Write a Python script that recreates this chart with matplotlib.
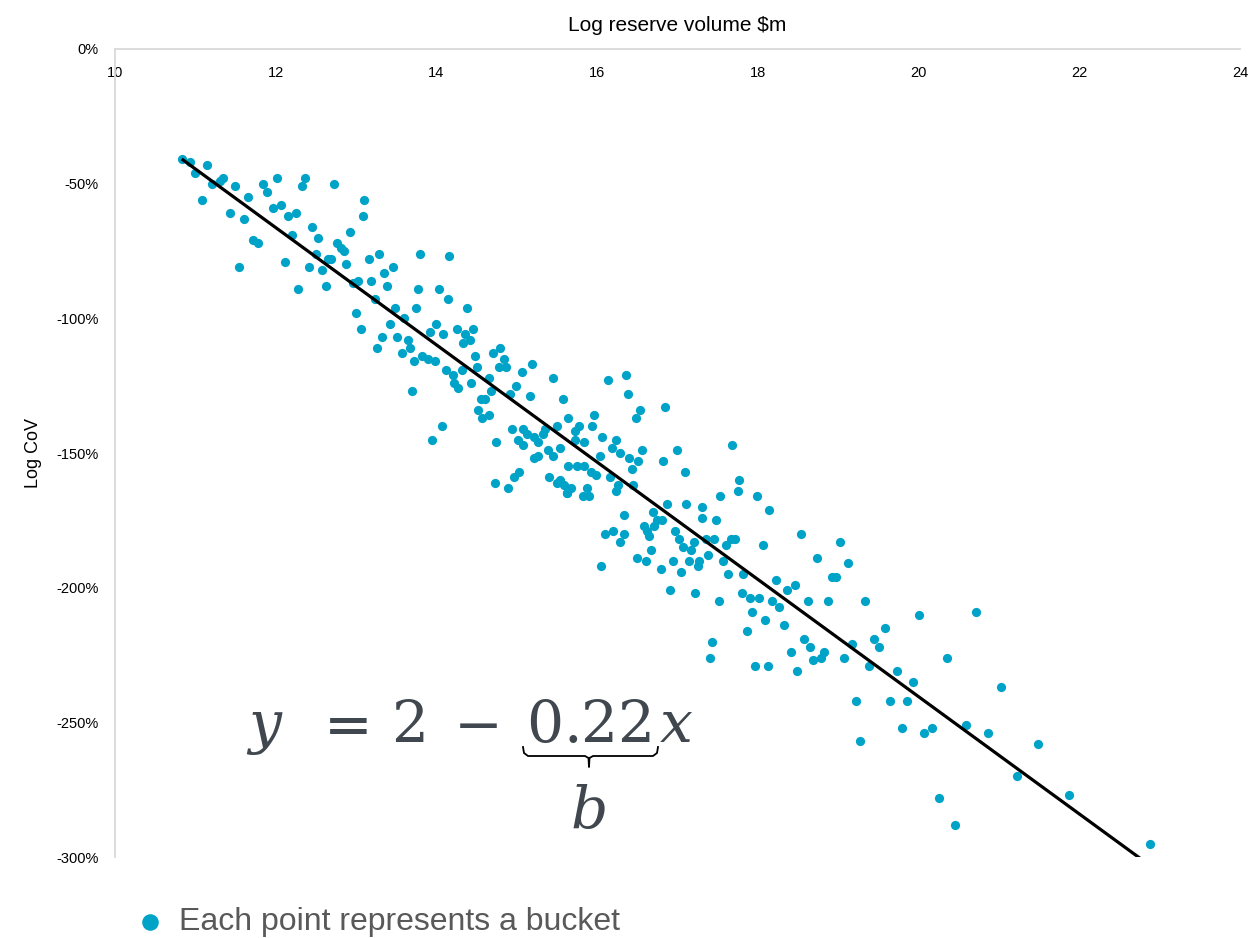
import matplotlib
matplotlib.use('Agg')
import matplotlib.pyplot as plt
from matplotlib.lines import Line2D
import numpy as np

plt.rcParams['font.family'] = ['Liberation Sans', 'DejaVu Sans']
plt.rcParams['axes.unicode_minus'] = False
plt.rcParams['mathtext.fontset'] = 'dejavuserif'

# one point per bucket: log reserve volume ($m) against log coefficient of variation
log_volume = [
    10.83, 10.93, 11.00, 11.15, 11.08, 11.21, 11.34, 11.31, 11.49, 11.43,
    11.61, 11.66, 11.54, 11.72, 11.78, 11.84, 11.89, 12.02, 11.96, 12.07,
    12.15, 12.25, 12.37, 12.33, 12.73, 12.45, 12.53, 12.20, 12.12, 12.28,
    12.42, 12.50, 12.58, 12.62, 12.65, 12.69, 12.76, 12.81, 12.85, 12.93,
    12.88, 13.03, 12.96, 13.00, 13.06, 13.10, 13.08, 13.16, 13.29, 13.19,
    13.35, 13.46, 13.39, 13.80, 14.16, 13.77, 14.03, 14.15, 14.38, 13.23,
    13.49, 13.60, 13.74, 13.42, 13.32, 13.26, 13.51, 13.65, 13.67, 13.57,
    13.72, 13.69, 13.92, 14.00, 14.08, 14.25, 14.36, 14.45, 14.42, 14.33,
    13.82, 13.90, 13.98, 14.12, 14.20, 14.22, 14.27, 14.32, 14.48, 14.50,
    14.43, 14.71, 14.79, 14.84, 14.78, 14.87, 14.66, 15.06, 15.19, 14.99,
    14.92, 15.17, 15.45, 15.57, 14.68, 14.55, 14.61, 14.52, 14.65, 14.57,
    14.07, 13.95, 14.74, 14.94, 15.08, 15.13, 15.01, 15.08, 15.21, 15.26,
    15.33, 15.35, 15.50, 15.64, 15.54, 15.39, 15.45, 15.21, 15.27, 15.64,
    15.03, 14.96, 15.40, 15.54, 15.50, 15.59, 15.63, 14.73, 14.89, 16.13,
    16.36, 16.39, 16.53, 16.48, 16.85, 15.96, 15.93, 15.77, 15.72, 15.73,
    15.84, 16.06, 16.24, 16.18, 16.29, 16.56, 16.03, 16.40, 16.51, 16.43,
    16.82, 16.99, 17.09, 17.68, 15.75, 15.84, 15.92, 15.99, 16.16, 15.68,
    15.62, 15.87, 15.82, 15.90, 16.26, 16.24, 16.45, 16.87, 17.11, 17.30,
    17.31, 17.53, 17.76, 17.75, 17.99, 18.14, 17.48, 16.34, 16.69, 16.75,
    16.81, 16.71, 16.58, 16.62, 16.64, 16.10, 16.20, 16.33, 16.28, 16.97,
    17.02, 17.20, 17.17, 17.07, 17.35, 17.45, 17.60, 17.66, 17.71, 18.06,
    16.67, 16.05, 16.50, 16.61, 16.94, 17.14, 17.25, 17.27, 17.38, 17.57,
    16.79, 17.04, 17.63, 17.82, 16.91, 17.22, 17.52, 17.80, 17.90, 18.02,
    17.93, 18.54, 19.02, 18.74, 19.12, 18.22, 18.36, 18.46, 18.92, 18.97,
    18.18, 18.26, 18.62, 18.87, 19.33, 20.01, 18.09, 18.32, 19.58, 19.45,
    19.51, 18.57, 18.65, 19.17, 18.41, 18.69, 18.78, 18.82, 19.07, 18.12,
    18.49, 19.38, 19.73, 19.93, 20.36, 19.22, 19.64, 19.86, 20.72, 21.03,
    20.59, 20.87, 21.49, 21.23, 21.87, 22.88, 19.27, 19.79, 20.07, 20.17,
    20.25, 20.45, 17.86, 17.43, 17.40, 17.96,
]
log_cov = [
    -0.41, -0.42, -0.46, -0.43, -0.56, -0.50, -0.48, -0.49, -0.51, -0.61,
    -0.63, -0.55, -0.81, -0.71, -0.72, -0.50, -0.53, -0.48, -0.59, -0.58,
    -0.62, -0.61, -0.48, -0.51, -0.50, -0.66, -0.70, -0.69, -0.79, -0.89,
    -0.81, -0.76, -0.82, -0.88, -0.78, -0.78, -0.72, -0.74, -0.75, -0.68,
    -0.80, -0.86, -0.87, -0.98, -1.04, -0.56, -0.62, -0.78, -0.76, -0.86,
    -0.83, -0.81, -0.88, -0.76, -0.77, -0.89, -0.89, -0.93, -0.96, -0.93,
    -0.96, -1.00, -0.96, -1.02, -1.07, -1.11, -1.07, -1.08, -1.11, -1.13,
    -1.16, -1.27, -1.05, -1.02, -1.06, -1.04, -1.06, -1.04, -1.08, -1.09,
    -1.14, -1.15, -1.16, -1.19, -1.21, -1.24, -1.26, -1.19, -1.14, -1.18,
    -1.24, -1.13, -1.11, -1.15, -1.18, -1.18, -1.22, -1.20, -1.17, -1.25,
    -1.28, -1.29, -1.22, -1.30, -1.27, -1.30, -1.30, -1.34, -1.36, -1.37,
    -1.40, -1.45, -1.46, -1.41, -1.41, -1.43, -1.45, -1.47, -1.44, -1.46,
    -1.43, -1.41, -1.40, -1.37, -1.48, -1.49, -1.51, -1.52, -1.51, -1.55,
    -1.57, -1.59, -1.59, -1.60, -1.61, -1.62, -1.65, -1.61, -1.63, -1.23,
    -1.21, -1.28, -1.34, -1.37, -1.33, -1.36, -1.40, -1.40, -1.42, -1.45,
    -1.46, -1.44, -1.45, -1.48, -1.50, -1.49, -1.51, -1.52, -1.53, -1.56,
    -1.53, -1.49, -1.57, -1.47, -1.55, -1.55, -1.57, -1.58, -1.59, -1.63,
    -1.65, -1.63, -1.66, -1.66, -1.62, -1.64, -1.62, -1.69, -1.69, -1.70,
    -1.74, -1.66, -1.60, -1.64, -1.66, -1.71, -1.75, -1.73, -1.72, -1.75,
    -1.75, -1.77, -1.77, -1.79, -1.81, -1.80, -1.79, -1.80, -1.83, -1.79,
    -1.82, -1.83, -1.86, -1.85, -1.82, -1.82, -1.84, -1.82, -1.82, -1.84,
    -1.86, -1.92, -1.89, -1.90, -1.90, -1.90, -1.92, -1.90, -1.88, -1.90,
    -1.93, -1.94, -1.95, -1.95, -2.01, -2.02, -2.05, -2.02, -2.04, -2.04,
    -2.09, -1.80, -1.83, -1.89, -1.91, -1.97, -2.01, -1.99, -1.96, -1.96,
    -2.05, -2.07, -2.05, -2.05, -2.05, -2.10, -2.12, -2.14, -2.15, -2.19,
    -2.22, -2.19, -2.22, -2.21, -2.24, -2.27, -2.26, -2.24, -2.26, -2.29,
    -2.31, -2.29, -2.31, -2.35, -2.26, -2.42, -2.42, -2.42, -2.09, -2.37,
    -2.51, -2.54, -2.58, -2.70, -2.77, -2.95, -2.57, -2.52, -2.54, -2.52,
    -2.78, -2.88, -2.16, -2.20, -2.26, -2.29,
]

x_ticks = [10, 12, 14, 16, 18, 20, 22, 24]
y_ticks = [0, -0.5, -1.0, -1.5, -2.0, -2.5, -3.0]

W, H = 1253, 938
fig = plt.figure(figsize=(W / 100, H / 100), dpi=100)
ax = fig.add_axes([115 / W, 1 - 857 / H, 1125 / W, 808 / H])

def fpos(x, y):
    # pixel position (from top-left) -> figure fraction
    return x / W, 1 - y / H

teal = '#00A3C8'
ax.scatter(log_volume, log_cov, s=44, color=teal, linewidths=0, zorder=3,
           label='Each point represents a bucket')

# least-squares trend line over the range of the data
b, a = np.polyfit(log_volume, log_cov, 1)
xs = np.array([min(log_volume), max(log_volume)])
ax.plot(xs, a + b * xs, color='black', lw=2.3, zorder=4, solid_capstyle='butt')

ax.set_xlim(10, 24)
ax.set_ylim(-3, 0)
ax.set_xticks(x_ticks)
ax.set_yticks(y_ticks)
ax.yaxis.set_major_formatter(plt.FuncFormatter(lambda v, p: f'{v * 100:.0f}%'))

ax.xaxis.set_ticks_position('top')
ax.tick_params(axis='x', top=True, bottom=False, labeltop=True, labelbottom=False,
               length=0, pad=-12, labelsize=10.5, colors='black')
ax.tick_params(axis='y', length=0, pad=12, labelsize=10.5)
for lab in ax.get_xticklabels():
    lab.set_verticalalignment('top')

for side in ['bottom', 'right']:
    ax.spines[side].set_visible(False)
for side in ['top', 'left']:
    ax.spines[side].set_color('#d9d9d9')
    ax.spines[side].set_linewidth(1.3)

ax.xaxis.set_label_position('top')
ax.set_xlabel('Log reserve volume $m', fontsize=15, labelpad=13)
ax.set_ylabel('Log CoV', fontsize=13, labelpad=10)

# fitted equation with the slope marked as b
eq_color = '#40474E'
fs = 42
base = 742
for txt, cx in [(r'$y$', 265), (r'$=$', 340), (r'$2$', 408), (r'$-$', 475),
                (r'$0.22$', 588), (r'$x$', 676)]:
    fig.text(*fpos(cx, base), txt, fontsize=fs, color=eq_color,
             ha='center', va='baseline')
fig.text(*fpos(588, 828), r'$b$', fontsize=fs, color=eq_color,
         ha='center', va='baseline')

brace_px = [(523, 747), (524, 753), (528, 756), (585, 756), (588.5, 758), (589, 767),
            (589.5, 758), (593, 756), (653, 756), (657, 753), (658, 747)]
bx, by = zip(*[fpos(px, py) for px, py in brace_px])
fig.add_artist(Line2D(bx, by, color='black', lw=1.3, transform=fig.transFigure))

fig.legend(loc='center left', bbox_to_anchor=fpos(134, 922), frameon=False,
           fontsize=23, labelcolor='#595959', handlelength=1, handletextpad=0.4,
           borderpad=0, borderaxespad=0, markerscale=1.8)

fig.savefig('out.png', dpi=100)
